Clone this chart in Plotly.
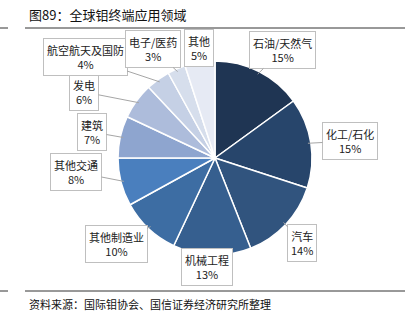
import math
import plotly.graph_objects as go

categories = ["石油/天然气", "化工/石化", "汽车", "机械工程", "其他制造业", "其他交通",
              "建筑", "发电", "航空航天及国防", "电子/医药", "其他"]
values = [15, 15, 14, 13, 10, 8, 7, 6, 4, 3, 5]
pct_labels = ["15%", "15%", "14%", "13%", "10%", "8%", "7%", "6%", "4%", "3%", "5%"]
colors = ["#1f3553", "#27456b", "#31547e", "#365f8f", "#3d6da3", "#4a7fbe",
          "#8ea5cf", "#adbcdb", "#c5d0e5", "#d6deec", "#e6eaf4"]

W, H = 410, 324
CX, CY, R = 215, 158, 97

# label box centres (pixels)
label_pos = [(282, 50), (350, 141), (302, 243), (207, 267), (116, 244), (76, 172),
             (92, 132), (84, 92), (85, 57), (153, 49), (199, 48)]

fig = go.Figure()
fig.add_trace(go.Pie(
    labels=categories, values=values, sort=False, direction="clockwise", rotation=0,
    marker=dict(colors=colors, line=dict(color="white", width=1.5)),
    textinfo="none", hoverinfo="label+percent", showlegend=False,
    domain=dict(x=[(CX - R) / W, (CX + R) / W], y=[(H - CY - R) / H, (H - CY + R) / H]),
))

total = sum(values)
cum = 0
annotations = []
for cat, v, p, (bx, by) in zip(categories, values, pct_labels, label_pos):
    mid = (cum + v / 2) / total * 2 * math.pi
    cum += v
    tx = CX + R * 0.97 * math.sin(mid)
    ty = CY - R * 0.97 * math.cos(mid)
    annotations.append(dict(
        x=tx / W, y=1 - ty / H, xref="paper", yref="paper",
        ax=bx - tx, ay=by - ty, axref="pixel", ayref="pixel",
        text=f"{cat}<br>{p}", showarrow=True, arrowhead=0, arrowwidth=1,
        arrowcolor="#a6a6a6", bordercolor="#bfbfbf", borderwidth=1, borderpad=3,
        bgcolor="white", font=dict(size=11, color="#222", family="Noto Sans CJK SC"),
        align="center",
    ))

annotations.append(dict(x=27 / W, y=1 - 15 / H, xref="paper", yref="paper", xanchor="left",
                        yanchor="middle", showarrow=False, text="图89：全球钼终端应用领域",
                        font=dict(size=13, color="#111", family="Noto Sans CJK SC")))
annotations.append(dict(x=27 / W, y=1 - 304 / H, xref="paper", yref="paper", xanchor="left",
                        yanchor="middle", showarrow=False,
                        text="资料来源：国际钼协会、国信证券经济研究所整理",
                        font=dict(size=11, color="#111", family="Noto Sans CJK SC")))

shapes = []
for yy in (28, 291):
    for x0, x1 in ((0, 8), (25, 405)):
        shapes.append(dict(type="line", xref="paper", yref="paper", x0=x0 / W, x1=x1 / W,
                           y0=1 - yy / H, y1=1 - yy / H, line=dict(color="#333", width=1)))

fig.update_layout(width=W, height=H, margin=dict(l=0, r=0, t=0, b=0),
                  paper_bgcolor="white", plot_bgcolor="white",
                  annotations=annotations, shapes=shapes)
fig.write_html("out.html")
